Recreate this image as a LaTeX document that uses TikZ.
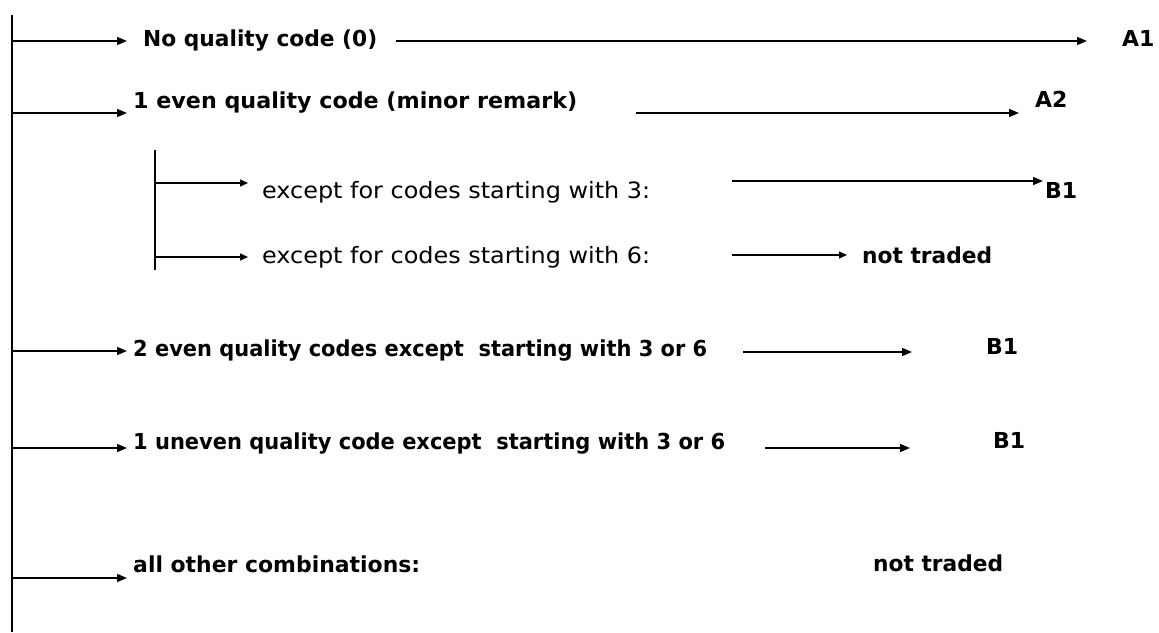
\documentclass[tikz,border=0pt]{standalone}
\usepackage{fontspec}
\setmainfont{DejaVu Sans}
\usetikzlibrary{arrows.meta}
\newcommand{\fitw}[2]{\resizebox{#1pt}{\height}{#2}}
\begin{document}
\begin{tikzpicture}[x=1pt,y=-1pt,
  lbl/.style={inner sep=0pt, anchor=base west, font=\fontsize{22.5}{26}\selectfont},
  blbl/.style={inner sep=0pt, anchor=base west, font=\fontsize{22}{26}\selectfont\bfseries},
  trunk/.style={line width=1.8pt},
  arr/.style={line width=1.5pt, -{Triangle[length=10pt,width=8pt]}},
  sarr/.style={line width=1.4pt, -{Triangle[length=8pt,width=7pt]}}]
\useasboundingbox (0,0) rectangle (1159,632);

% main trunk
\coordinate (top) at (12,15);
\coordinate (bot) at (12,632);
\draw[trunk] (top) -- (bot);

% row 1
\coordinate (s1) at (12,41);
\coordinate (e1) at (127,41);
\node[blbl] (n1) at (143,46) {\fitw{234}{No quality code (0)}};
\coordinate (l1a) at (396,41);
\coordinate (l1b) at (1087,41);
\node[blbl] (A1) at (1122,46) {A1};
\draw[arr] (s1) -- (e1);
\draw[arr] (l1a) -- (l1b);

% row 2
\coordinate (s2) at (12,113);
\coordinate (e2) at (127,113);
\node[blbl] (n2) at (133,108) {\fitw{444}{1 even quality code (minor remark)}};
\coordinate (l2a) at (636,113);
\coordinate (l2b) at (1019,113);
\node[blbl] (A2) at (1035,107) {A2};
\draw[arr] (s2) -- (e2);
\draw[arr] (l2a) -- (l2b);

% sub trunk
\coordinate (stop) at (155,150);
\coordinate (sbot) at (155,270);
\draw[trunk] (stop) -- (sbot);

% sub row 1
\coordinate (ss1) at (155,183);
\coordinate (se1) at (248,183);
\node[lbl] (m1) at (262,198) {\fitw{388}{except for codes starting with 3:}};
\coordinate (k1a) at (732,181);
\coordinate (k1b) at (1043,181);
\node[blbl] (B1a) at (1045,198) {B1};
\draw[sarr] (ss1) -- (se1);
\draw[arr] (k1a) -- (k1b);

% sub row 2
\coordinate (ss2) at (155,257);
\coordinate (se2) at (248,257);
\node[lbl] (m2) at (262,263) {\fitw{388}{except for codes starting with 6:}};
\coordinate (k2a) at (732,255);
\coordinate (k2b) at (847,255);
\node[blbl] (nt1) at (862,263) {\fitw{130}{not traded}};
\draw[sarr] (ss2) -- (se2);
\draw[sarr] (k2a) -- (k2b);

% row 3
\coordinate (s3) at (12,351);
\coordinate (e3) at (127,351);
\node[blbl] (n3) at (133,356) {\fitw{574}{2 even quality codes except~ starting with 3 or 6}};
\coordinate (l3a) at (743,352);
\coordinate (l3b) at (912,352);
\node[blbl] (B1b) at (986,354) {B1};
\draw[arr] (s3) -- (e3);
\draw[arr] (l3a) -- (l3b);

% row 4
\coordinate (s4) at (12,448);
\coordinate (e4) at (127,448);
\node[blbl] (n4) at (133,449) {\fitw{592}{1 uneven quality code except~ starting with 3 or 6}};
\coordinate (l4a) at (765,448);
\coordinate (l4b) at (910,448);
\node[blbl] (B1c) at (993,448) {B1};
\draw[arr] (s4) -- (e4);
\draw[arr] (l4a) -- (l4b);

% row 5
\coordinate (s5) at (12,578);
\coordinate (e5) at (127,578);
\node[blbl] (n5) at (133,572) {\fitw{287}{all other combinations:}};
\node[blbl] (nt2) at (873,571) {\fitw{130}{not traded}};
\draw[arr] (s5) -- (e5);
\end{tikzpicture}
\end{document}
